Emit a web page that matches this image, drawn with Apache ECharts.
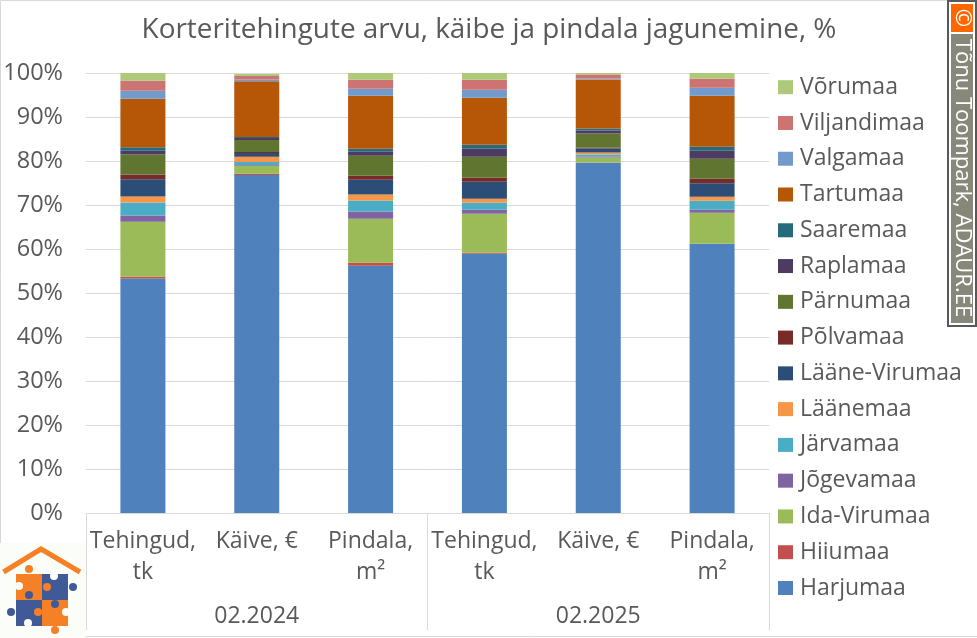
<!DOCTYPE html>
<html><head><meta charset="utf-8">
<style>html,body{margin:0;padding:0;background:#fff}#c{width:977px;height:638px}</style>
<script src="https://cdn.jsdelivr.net/npm/echarts@6/dist/echarts.min.js"></script>
</head><body><div id="c"></div>
<script>
const titleText = 'Korteritehingute arvu, käibe ja pindala jagunemine, %';
const categories = ['Tehingud,\ntk','Käive, €','Pindala,\nm²','Tehingud,\ntk','Käive, €','Pindala,\nm²'];
const periods = ['','02.2024','','','02.2025',''];
const harjumaa = [53.3,76.8,56.2,58.94,79.6,61.2];
const hiiumaa = [0.4,0.3,0.7,0.23,0.05,0];
const idaVirumaa = [12.5,1.8,10,8.86,1.15,7.05];
const jogevamaa = [1.4,0.2,1.6,0.91,0.23,0.68];
const jarvamaa = [2.95,0.7,2.5,1.59,0.45,2.04];
const laanemaa = [1.4,1.14,1.36,0.9,0.45,0.9];
const laaneVirumaa = [3.9,0.9,3.4,3.86,0.9,3.1];
const polvamaa = [1.1,0.23,0.9,0.9,0.23,1];
const parnumaa = [4.5,2.73,4.55,4.77,3.18,4.55];
const raplamaa = [0.9,0.45,0.9,1.82,0.68,1.82];
const saaremaa = [0.76,0.2,0.68,0.9,0.45,0.9];
const tartumaa = [11.06,12.7,12.05,10.68,11.14,11.6];
const valgamaa = [1.8,0.38,1.6,1.82,0.23,1.82];
const viljandimaa = [2.27,0.76,2.05,2.27,0.9,2.05];
const vorumaa = [1.76,0.51,1.51,1.55,0.36,1.29];
const names = ['Harjumaa','Hiiumaa','Ida-Virumaa','Jõgevamaa','Järvamaa','Läänemaa','Lääne-Virumaa','Põlvamaa','Pärnumaa','Raplamaa','Saaremaa','Tartumaa','Valgamaa','Viljandimaa','Võrumaa'];
const values = [harjumaa,hiiumaa,idaVirumaa,jogevamaa,jarvamaa,laanemaa,laaneVirumaa,polvamaa,parnumaa,raplamaa,saaremaa,tartumaa,valgamaa,viljandimaa,vorumaa];
const colors = ['#4f81bd','#c0504d','#9bbb59','#8064a2','#4bacc6','#f79646','#2c4d75','#772c2a','#5f7530','#4d3b62','#276a7c','#b65708','#729aca','#cd7371','#afc97a'];
const FONT = '"Open Sans"';
const TXT = '#595959';
const OR = '#f58025', NV = '#3f5a97', BG = '#fbfdf9';
const circ = (x,y,fill,r=4)=>({type:'circle',shape:{cx:x,cy:y,r},style:{fill}});
const rect = (x,y,w,h,fill,extra={})=>({type:'rect',shape:{x,y,width:w,height:h},style:Object.assign({fill},extra)});
const chart = echarts.init(document.getElementById('c'),null,{renderer:'canvas'});
chart.setOption({
  animation:false,
  backgroundColor:'#fff',
  color:colors,
  title:{text:titleText,left:484,textAlign:'center',top:11,textStyle:{fontFamily:FONT,fontSize:27.9,fontWeight:'normal',color:TXT}},
  legend:{orient:'vertical',left:778,top:75.7,padding:0,itemWidth:15,itemHeight:14,itemGap:12.77,
    data:names.slice().reverse(),
    icon:'rect',
    itemStyle:{borderWidth:0},
    textStyle:{fontFamily:FONT,fontSize:23,color:TXT,padding:[0,0,0,2]}},
  grid:{left:86,top:73,width:683,height:440,containLabel:false},
  xAxis:[
    {type:'category',data:categories,position:'bottom',
      axisLine:{lineStyle:{color:'#d9d9d9',width:1}},
      axisTick:{show:true,length:117,interval:(i)=>i%3===0,lineStyle:{color:'#d9d9d9',width:1}},
      axisLabel:{interval:0,fontFamily:FONT,fontSize:23,color:TXT,lineHeight:31,margin:13,verticalAlign:'top'}},
    {type:'category',data:periods,position:'bottom',offset:86,
      axisLine:{show:false},axisTick:{show:false},
      axisLabel:{interval:0,fontFamily:FONT,fontSize:23,color:TXT,margin:6,verticalAlign:'top'}}
  ],
  yAxis:{type:'value',min:0,max:100,interval:10,
    axisLine:{show:false},axisTick:{show:false},
    splitLine:{lineStyle:{color:'#d9d9d9',width:1}},
    axisLabel:{formatter:'{value}%',fontFamily:FONT,fontSize:23.5,color:TXT,margin:23,padding:[2,0,0,0]}},
  series:names.map((n,i)=>({name:n,type:'bar',stack:'t',barWidth:45,data:values[i],itemStyle:{color:colors[i],borderWidth:0}})),
  graphic:[
    {type:'polyline',silent:true,shape:{points:[[0.5,545],[0.5,0.5],[947,0.5]]},style:{stroke:'#d9d9d9',fill:null,lineWidth:1}},
    {type:'line',silent:true,shape:{x1:86,y1:636.5,x2:977,y2:636.5},style:{stroke:'#d9d9d9',lineWidth:1}},
    // logo
    {type:'group',silent:true,children:[
      rect(0,543,86,95,BG),
      {type:'polyline',shape:{points:[[3.5,572],[41,549],[80,572]]},style:{stroke:OR,lineWidth:5,fill:null}},
      rect(16,574,26,26,OR),rect(42,574,26,26,NV),rect(16,600,26,26,NV),rect(42,600,26,26,OR),
      circ(29,569,OR),circ(54,576,BG),circ(73,587,NV),circ(19,586,BG),circ(47,587,OR),circ(29,595,NV),
      circ(11,612,NV),circ(28,623,BG),circ(38,612,OR),circ(55,604,NV),circ(66,612,BG),circ(55,630,OR)
    ]},
    // credit badge
    {type:'group',silent:true,children:[
      rect(948,1,28,325,'#fff',{stroke:'#595959',lineWidth:2}),
      rect(951,4,22,28,'#ff6600'),
      rect(951,34,22,289,'#87877a'),
      {type:'text',x:962,y:18,rotation:-Math.PI/2,style:{text:'©',fill:'#fff',font:'22px "Open Sans"',align:'center',verticalAlign:'middle'}},
      {type:'text',x:962,y:178,rotation:-Math.PI/2,style:{text:'Tõnu Toompark, ADAUR.EE',fill:'#fff',font:'22px "Open Sans"',align:'center',verticalAlign:'middle'}}
    ]}
  ]
});
</script></body></html>
